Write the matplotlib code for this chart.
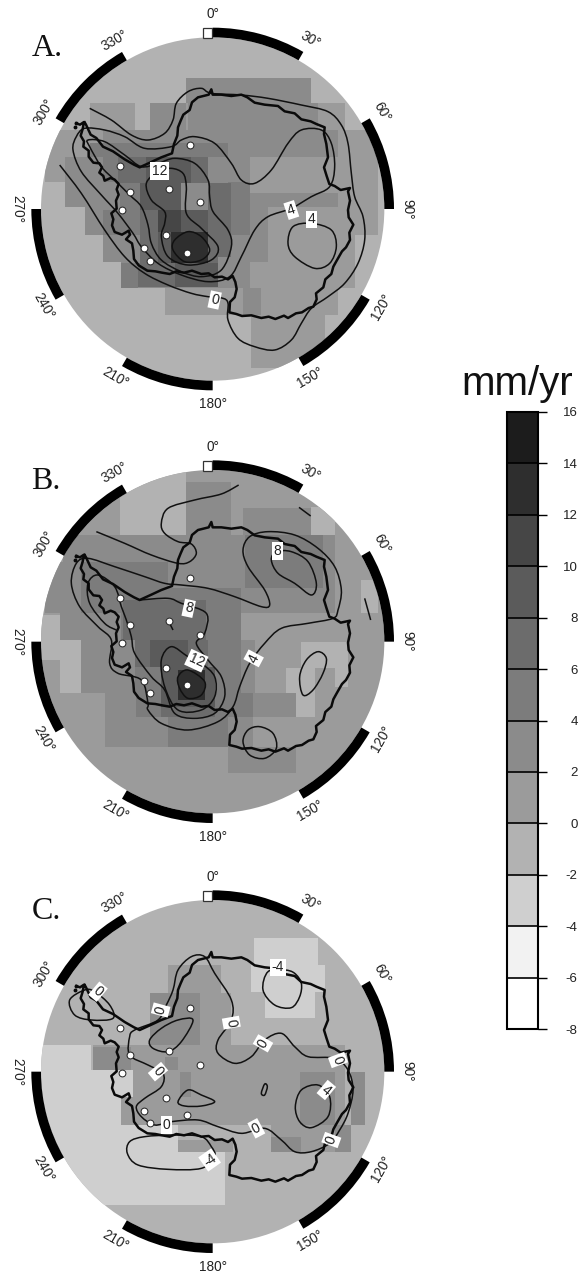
import numpy as np
from matplotlib import pyplot as plt
from matplotlib.colors import ListedColormap, BoundaryNorm
from matplotlib.cm import ScalarMappable
from matplotlib.patches import Circle, Rectangle, Wedge, PathPatch
from matplotlib.path import Path

plt.rcParams['font.family'] = ['Liberation Sans', 'DejaVu Sans']

W, H = 579, 1273
DPI = 100

# colour bands, bottom to top
levels = list(range(-8, 18, 2))
level_labels = [str(l) for l in levels]
band_colors = ['#ffffff', '#f2f2f2', '#cfcfcf', '#b2b2b2', '#9b9b9b', '#8b8b8b',
               '#7c7c7c', '#6c6c6c', '#5b5b5b', '#464646', '#2e2e2e', '#1c1c1c']

lon_ticks = [0, 30, 60, 90, 120, 150, 180, 210, 240, 270, 300, 330]
rim_black_starts = [0, 60, 120, 180, 240, 300]

centers_y = {'A': 627, 'B': 665, 'C': 665}
page_offset = {'A': 0, 'B': 420, 'C': 850}

# coast and sites are the same on the three maps, read in the C frame
coast = [(225,408),(236,412),(248,404),(244,425),(238,445),(248,462),(246,478),(262,490),(262,508),(276,526),
         (294,528),(302,540),(294,556),(306,566),(310,580),(328,572),(340,577),(352,590),(346,606),(352,622),
         (344,640),(346,664),(330,678),(336,696),(332,714),(340,734),(362,742),(382,730),(386,742),(374,756),
         (392,768),(396,790),(398,815),(412,834),(438,850),(462,852),(482,856),(505,860),(525,852),(548,856),
         (572,850),(600,860),(622,858),(640,870),(662,868),(680,876),(694,866),(702,884),(706,905),(700,930),
         (686,944),(684,975),(705,980),(722,986),(750,984),(780,992),(802,988),(822,995),(848,985),(860,992),
         (884,978),(902,975),(922,962),(936,958),(946,936),(944,918),(966,900),(972,876),(990,860),(996,838),
         (1006,820),(1022,792),(1034,780),(1046,758),(1044,736),(1056,712),(1042,690),(1040,668),(1046,640),
         (1040,612),(1046,602),(1018,608),(1000,596),(984,590),(976,566),(968,540),(980,510),(975,470),(968,440),
         (970,420),(945,410),(928,402),(900,396),(880,378),(850,372),(830,356),(790,352),(760,346),(738,330),
         (720,322),(690,326),(660,322),(634,322),(630,306),(622,322),(590,330),(572,345),(565,368),(546,382),
         (538,400),(530,420),(528,445),(518,470),(512,498),(480,510),(450,524),(415,540),(398,532),(370,516),
         (335,492),(305,478),(285,452),(268,442),(254,412),(250,405)]
antarctic_islets = [(224,408),(221,420)]
sites_x = [565, 356, 385, 503, 597, 362, 493, 428, 557, 447]
sites_y = [473, 535, 614, 604, 644, 669, 744, 782, 796, 820]

# shaded cells: x0, x1, y0, y1, value
base_value = {'A': -1, 'B': 1, 'C': -1}
cells_A = [(265,400,310,390,1),(445,1030,310,390,1),(130,1130,390,545,1),(190,1130,545,620,1),
           (250,1130,620,705,1),(305,1060,705,785,1),(360,1060,785,865,1),(490,1010,865,945,1),(750,970,945,1105,1),
           (555,930,235,310,3),(445,555,310,390,3),(560,950,310,390,3),(305,680,390,470,3),(190,360,545,620,3),
           (190,745,470,620,3),(250,800,620,705,3),(305,800,705,785,3),(360,745,785,865,3),(680,1010,390,470,3),
           (745,1010,580,620,3),(725,780,865,945,3),
           (265,680,430,470,5),(305,440,470,545,5),(355,415,545,630,5),(305,470,630,705,5),(420,470,705,790,5),
           (360,410,790,865,5),(680,745,545,705,5),
           (350,435,470,550,7),(570,620,470,550,7),(620,690,550,770,7),(410,520,790,860,7),
           (415,470,630,790,7),(620,650,695,790,7),
           (435,570,470,550,9),(415,540,550,630,9),(470,510,695,790,9),(540,620,630,695,9),(520,650,790,860,9),
           (470,540,630,695,11),(510,620,695,790,13)]
cells_B = [(355,555,150,345,-1),(930,1000,260,345,-1),(1080,1130,480,580,-1),(115,175,585,720,-1),(175,240,660,820,-1),
           (900,1040,665,745,-1),(855,940,745,890,-1),(1000,1040,745,800,-1),
           (555,690,185,345,3),(725,930,265,345,3),(185,1000,345,425,3),(130,1000,425,580,3),(175,720,580,660,3),
           (240,760,660,820,3),(310,885,820,890,3),(310,755,890,980,3),(680,885,980,1060,3),
           (240,500,425,580,5),(360,720,505,660,5),(400,720,660,820,5),(405,755,820,890,5),(500,680,890,980,5),
           (730,965,345,505,5),(815,965,425,505,5),
           (365,615,540,660,7),(400,620,660,740,7),(480,640,740,890,7),
           (445,560,660,740,9),(480,640,740,860,9),(530,610,750,840,13)]
cells_C = [(100,270,585,660,-3),(100,420,660,825,-3),(100,360,825,1065,-3),(300,670,905,1065,-3),(360,530,825,905,-3),
           (757,950,265,345,-3),(750,970,345,425,-3),(790,940,425,505,-3),
           (500,660,345,430,1),(445,690,430,585,1),(275,720,585,660,1),(395,1030,660,825,1),(360,430,740,825,1),
           (810,1050,825,905,1),(530,695,870,905,1),(720,1030,585,665,1),
           (445,595,430,585,3),(275,390,590,660,3),(490,530,620,660,3),(895,1000,665,825,3),(1050,1090,665,825,3),
           (535,570,665,740,3),(810,900,860,905,3),(1000,1050,825,905,3)]

# contour lines, a line that ends on its first point is closed
lines_A = [
    [(265,325),(330,360),(390,405),(440,420),(490,400),(515,360),(525,310),(560,275),(600,265),(630,280),(720,285),
     (800,295),(900,315),(980,335),(1020,375),(1040,430),(1050,520),(1060,590),(1085,650),(1090,720),(1070,790),
     (1030,850),(980,890),(930,925),(900,970),(870,1020),(820,1050),(760,1040),(710,1015),(680,960),(680,910),
     (665,895),(620,890),(570,880),(500,855),(430,820),(370,770),(310,690),(240,580),(175,495)],
    [(250,385),(310,390),(370,410),(430,445),(510,440),(540,420),(580,410),(640,430),(690,490),(720,540),(760,550),
     (810,510),(860,430),(900,390),(960,390),(990,430),(1000,500),(985,560),(930,590),(870,625),(800,650),(760,690),
     (720,770),(685,830),(620,845),(540,825),(470,790),(420,740),(395,700),(350,640),(300,585),(240,515),(215,450),
     (225,410),(250,385)],
    [(930,670),(990,690),(1005,740),(985,790),(940,805),(880,770),(860,730),(875,680),(930,670)],
    [(260,420),(310,425),(370,465),(420,500),(470,490),(520,475),(580,490),(620,540),(625,590),(635,635),(680,690),
     (690,740),(660,810),(600,830),(540,815),(480,780),(450,730),(440,675),(420,620),(385,585),(340,540),(300,500),
     (265,440),(260,420)],
    [(435,550),(450,600),(490,635),(490,670),(480,710),(500,770),(560,795),(630,780),(650,740),(600,685),(555,640),
     (555,560),(545,520),(510,505),(470,515),(435,550)],
    [(520,720),(560,695),(600,710),(625,750),(600,780),(550,785),(515,750),(520,720)],
]
lines_B = [
    [(285,335),(370,370),(450,405),(530,430),(565,425),(585,400),(570,372),(530,365),(490,340),(480,310),(500,265),
     (580,240),(660,222),(712,195)],
    [(893,262),(928,288)],
    [(1090,535),(1108,600)],
    [(210,490),(225,430),(260,415),(340,440),(430,470),(490,490),(540,495),(620,505),(700,530),(780,560),(805,555),
     (790,510),(740,440),(725,390),(745,350),(800,335),(880,345),(950,385),(1000,440),(1020,510),(1010,570),(995,595),
     (920,610),(840,625),(790,670),(745,730),(715,800),(695,860),(650,905),(560,930),(480,910),(440,870),(440,850),
     (420,780),(350,760),(325,730),(330,660),(290,620),(235,560),(210,490)],
    [(415,540),(500,535),(540,550),(615,580),(610,640),(585,670),(620,720),(660,770),(670,830),(640,880),(580,895),
     (520,880),(490,810),(450,770),(400,700),(390,650),(375,600),(360,560),(340,500),(290,465),(260,490),(265,550),
     (310,610),(345,630)],
    [(480,720),(510,680),(560,710),(600,730),(640,770),(640,830),(600,870),(530,870),(490,800),(480,720)],
    [(530,770),(560,750),(610,785),(600,825),(560,835),(535,805),(530,770)],
    [(810,420),(825,395),(870,395),(920,425),(945,490),(930,525),(880,490),(830,460),(810,420)],
    [(950,695),(975,715),(965,760),(935,810),(905,825),(895,770),(915,720),(950,695)],
    [(775,920),(815,940),(825,985),(790,1015),(745,1005),(725,965),(740,930),(775,920)],
    [(505,610),(515,630)],
]
lines_C = [
    [(400,540),(470,510),(495,465),(515,420),(530,360),(570,320),(610,320),(640,370),(690,450),(690,510),(650,570),
     (650,610),(700,640),(750,620),(790,570),(840,550),(880,590),(920,620),(1000,625),(1040,660),(1055,720),(1040,790),
     (1015,840),(985,880),(930,905),(880,905),(840,870),(790,835),(720,850),(650,830),(590,810),(510,815),(460,825),
     (420,800),(405,770),(430,745),(480,710),(485,670),(440,645),(385,615),(385,560),(400,540)],
    [(250,420),(205,450),(220,495),(270,510),(335,505),(325,465),(280,425),(250,420)],
    [(575,510),(530,510),(480,535),(445,570),(455,595),(500,605),(540,575),(575,510)],
    [(530,755),(560,720),(600,735),(640,755),(600,768),(550,768),(530,755)],
    [(790,702),(798,710),(790,735),(780,730),(790,702)],
    [(950,705),(985,740),(980,800),(930,833),(895,815),(882,770),(900,720),(950,705)],
    [(800,365),(785,420),(820,465),(870,473),(895,440),(900,400),(880,370),(850,360),(800,365)],
    [(630,890),(600,860),(520,855),(430,860),(385,875),(378,910),(410,945),(500,958),(600,955),(640,920),(630,890)],
]

# contour labels: x, y, text, rotation
labels_A = [(475,513,'12',0),(870,630,'4',18),(930,658,'4',0),(640,900,'0',-12)]
labels_B = [(828,393,'8',0),(562,565,'8',-12),(585,722,'12',-25),(757,715,'4',62)]
labels_C = [(290,425,'0',-40),(830,352,'-4',0),(478,480,'0',75),(690,518,'0',-80),(785,580,'0',60),(1010,630,'0',-70),
            (975,720,'4',-40),(470,665,'0',-50),(495,825,'0',0),(765,835,'0',28),(625,930,'-4',35),(990,870,'0',70)]

cells = {'A': cells_A, 'B': cells_B, 'C': cells_C}
lines = {'A': lines_A, 'B': lines_B, 'C': lines_C}
labels = {'A': labels_A, 'B': labels_B, 'C': labels_C}

cmap = ListedColormap(band_colors)
norm = BoundaryNorm(levels, cmap.N)
R = 515


def smooth(points):
    # catmull-rom through the read points, as bezier segments
    pts = np.array(points, dtype=float)
    closed = len(pts) > 3 and (pts[0] == pts[-1]).all()
    n = len(pts)
    verts = [pts[0]]
    codes = [Path.MOVETO]
    for i in range(n - 1):
        if closed:
            p0 = pts[(i - 1) % (n - 1)]
            p3 = pts[(i + 2) % (n - 1)]
        else:
            p0 = pts[max(i - 1, 0)]
            p3 = pts[min(i + 2, n - 1)]
        p1, p2 = pts[i], pts[i + 1]
        verts += [p1 + (p2 - p0) / 6, p2 - (p3 - p1) / 6, p2]
        codes += [Path.CURVE4] * 3
    return Path(np.array(verts), codes)


def lon_rotation(lon):
    if lon <= 90:
        return -lon
    if lon == 180:
        return 0
    if lon <= 270:
        return 180 - lon
    return 360 - lon


fig = plt.figure(figsize=(W / DPI, H / DPI), dpi=DPI)

for name in ['A', 'B', 'C']:
    cy = centers_y[name]
    side = 420
    left = 634 / 3 - side / 2
    top = page_offset[name] + cy / 3 - side / 2
    ax = fig.add_axes([left / W, 1 - (top + side) / H, side / W, side / H])
    ax.set_xlim(0, 1260)
    ax.set_ylim(cy + 630, cy - 630)
    ax.axis('off')

    disc = Circle((634, cy), R, transform=ax.transData)
    ax.add_patch(Circle((634, cy), R, fc=cmap(norm(base_value[name])), ec='none', zorder=1))
    for x0, x1, y0, y1, v in cells[name]:
        rect = Rectangle((x0, y0), x1 - x0, y1 - y0, fc=cmap(norm(v)), ec='none', zorder=2)
        ax.add_patch(rect)
        rect.set_clip_path(disc)

    for line in lines[name]:
        ax.add_patch(PathPatch(smooth(line), fc='none', ec='#111111', lw=1.1, zorder=3))

    shift = cy - centers_y['C']
    cx_, cy_ = zip(*coast)
    ax.plot(cx_, np.array(cy_) + shift, color='#0a0a0a', lw=1.8, zorder=4, solid_joinstyle='round')
    ix, iy = zip(*antarctic_islets)
    ax.plot(ix, np.array(iy) + shift, ls='none', marker='o', ms=1.8, color='#0a0a0a', zorder=4)

    ax.scatter(sites_x, np.array(sites_y) + shift, s=24, fc='white', ec='#222222', lw=0.7, zorder=5)

    for x, y, txt, rot in labels[name]:
        ax.text(x, y, txt, rotation=rot, rotation_mode='anchor', ha='center', va='center', fontsize=10,
                color='#222222', zorder=6,
                bbox=dict(fc='white', ec='none', pad=1.2))

    # rim of the map
    for lon in rim_black_starts:
        ax.add_patch(Wedge((634, cy), 544, lon - 90, lon - 60, width=29, fc='black', ec='none', zorder=7))
    ax.add_patch(Rectangle((605, cy - 542), 27, 29, fc='white', ec='#333333', lw=0.9, zorder=7))
    for lon in lon_ticks:
        a = np.deg2rad(lon)
        tx = 634 + 585 * np.sin(a)
        ty = cy - 585 * np.cos(a)
        ax.text(tx, ty, str(lon) + '\u00b0', rotation=lon_rotation(lon), rotation_mode='anchor', ha='center',
                va='center', fontsize=9.8, color='#222222', clip_on=False, zorder=8)

    ax.text(90, cy - 458, name + '.', family=['Liberation Serif'], fontsize=23, color='#111111',
            ha='left', va='baseline', clip_on=False)

# colour bar
cax = fig.add_axes([507 / W, 1 - 1029 / H, 31 / W, 617 / H])
cb = fig.colorbar(ScalarMappable(norm=norm, cmap=cmap), cax=cax, ticks=levels, spacing='uniform', drawedges=True)
cb.dividers.set_color('black')
cb.dividers.set_linewidth(1.2)
cb.outline.set_edgecolor('black')
cb.outline.set_linewidth(1.5)
cb.minorticks_off()
cb.ax.set_yticklabels(level_labels)
cb.ax.tick_params(axis='y', length=6.5, width=1, pad=22, labelsize=9.5, labelcolor='#222222', right=True)
for t in cb.ax.get_yticklabels():
    t.set_ha('right')

fig.text(573 / W, 1 - 395 / H, 'mm/yr', fontsize=29, ha='right', va='baseline', color='#111111')

fig.savefig('out.png', dpi=DPI)
